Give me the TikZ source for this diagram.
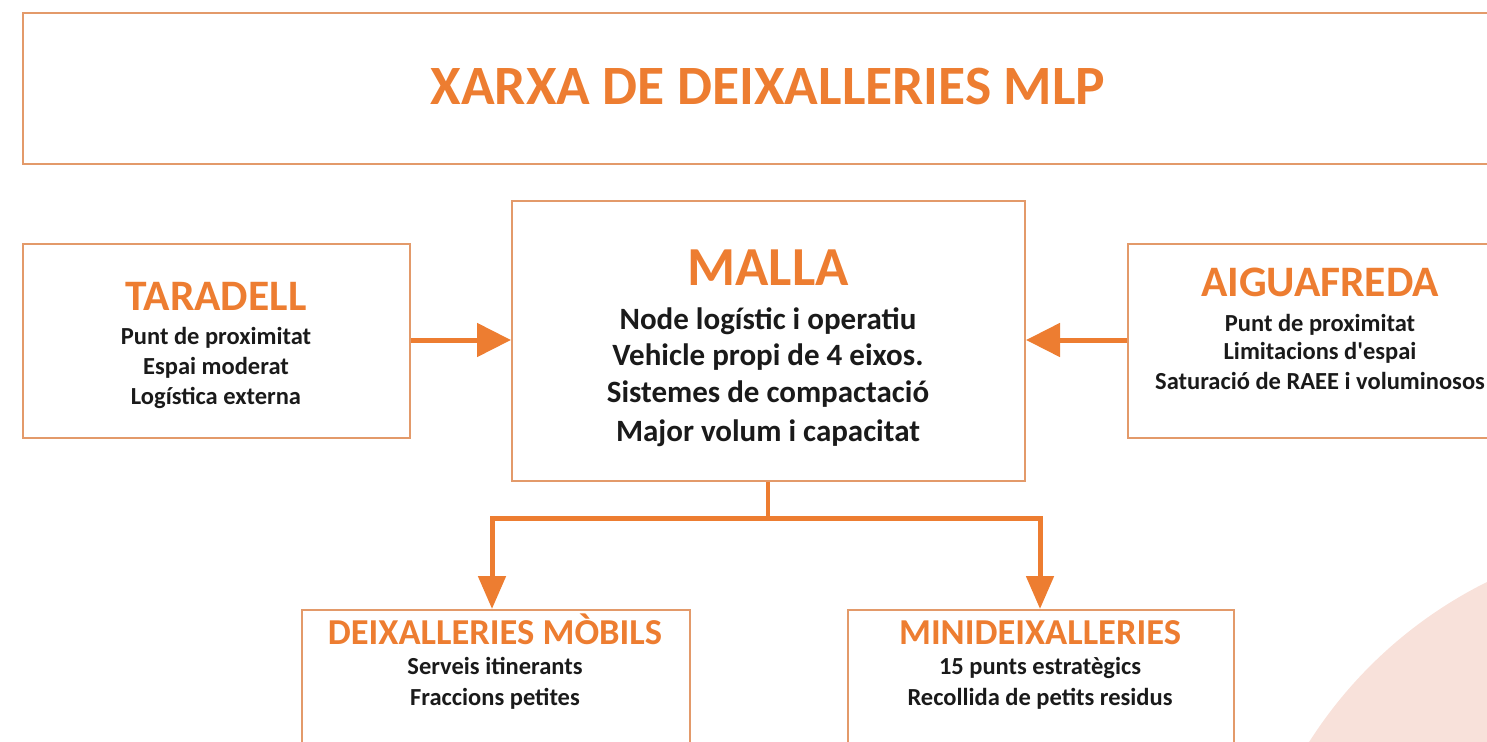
\documentclass[tikz,border=0pt]{standalone}
\usepackage{fontspec}
\setmainfont{Carlito}
\usetikzlibrary{arrows.meta}
\definecolor{org}{HTML}{ED7D31}
\definecolor{boxc}{HTML}{E39A6A}
\definecolor{pinkc}{HTML}{F8E1DA}
\definecolor{txt}{HTML}{1A1A1A}
\begin{document}
\begin{tikzpicture}[x=1pt,y=-1pt,
  box/.style={draw=boxc, line width=2pt, inner sep=0pt, anchor=north west},
  ttl/.style={text=org, anchor=base, inner sep=0pt, font=\bfseries\fontsize{#1}{#1}\selectfont},
  bod/.style={text=txt, anchor=base, inner sep=0pt, font=\bfseries\fontsize{#1}{#1}\selectfont},
  arr/.style={draw=org, line width=5pt, -{Triangle[length=34pt,width=33pt]}},
  varr/.style={draw=org, line width=5pt, -{Triangle[length=33pt,width=27pt]}},
  stem/.style={draw=org, line width=5pt}]
\useasboundingbox (0,0) rectangle (1487,741);
\clip (0,0) rectangle (1487,741);
\fill[pinkc] (1684,980) circle (444);
% boxes
\node[box, minimum width=1520pt, minimum height=151pt] (top) at (22,12) {};
\node[box, minimum width=387pt, minimum height=194pt] (tar) at (22,243) {};
\node[box, minimum width=513pt, minimum height=280pt] (mal) at (511,200) {};
\node[box, minimum width=400pt, minimum height=194pt] (aig) at (1127,243) {};
\node[box, minimum width=388pt, minimum height=200pt] (mob) at (301,609) {};
\node[box, minimum width=386pt, minimum height=200pt] (min) at (847,609) {};
% texts
\node[ttl=55.5] (ttop) at (768,105) {XARXA DE DEIXALLERIES MLP};
\node[ttl=43.5] (ttar) at (216,310) {TARADELL};
\node[bod=24.5] (b1) at (216,344) {Punt de proximitat};
\node[bod=24.5] (b2) at (216,374) {Espai moderat};
\node[bod=24.5] (b3) at (216,404) {Logística externa};
\node[ttl=55] (tmal) at (768,285) {MALLA};
\node[bod=31] (m1) at (768,329) {Node logístic i operatiu};
\node[bod=31] (m2) at (768,365) {Vehicle propi de 4 eixos.};
\node[bod=31] (m3) at (768,402) {Sistemes de compactació};
\node[bod=31] (m4) at (768,441) {Major volum i capacitat};
\node[ttl=43.5] (taig) at (1320,296) {AIGUAFREDA};
\node[bod=24.5] (a1) at (1320,331) {Punt de proximitat};
\node[bod=24.5] (a2) at (1320,359) {Limitacions d\textquotesingle espai};
\node[bod=24.5] (a3) at (1320,389) {Saturació de RAEE i voluminosos};
\node[ttl=36.5] (tmob) at (495,644) {DEIXALLERIES MÒBILS};
\node[bod=24.5] (o1) at (495,674) {Serveis itinerants};
\node[bod=24.5] (o2) at (495,705) {Fraccions petites};
\node[ttl=36.5] (tmin) at (1040,644) {MINIDEIXALLERIES};
\node[bod=24.5] (n1) at (1040,674) {15 punts estratègics};
\node[bod=24.5] (n2) at (1040,705) {Recollida de petits residus};
% connectors
\draw[arr] (tar.east |- 0,340) -- (mal.west |- 0,340);
\draw[arr] (aig.west |- 0,340) -- (mal.east |- 0,340);
\coordinate (split) at (768,518);
\draw[stem, line width=4pt] (mal.south -| split) -- (split);
\draw[varr] (split) -- (492,518) -- (492,0 |- mob.north);
\draw[varr] (split) -- (1040,518) -- (1040,0 |- min.north);
\end{tikzpicture}
\end{document}
